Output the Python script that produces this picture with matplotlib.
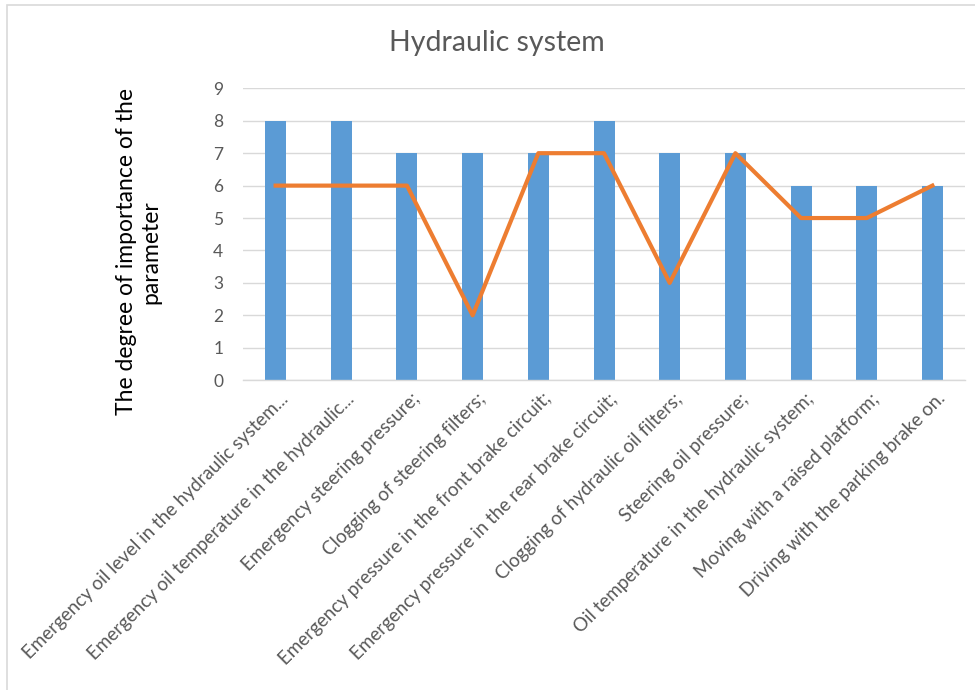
import matplotlib
matplotlib.use('Agg')
import matplotlib.pyplot as plt
import matplotlib.transforms as mtransforms
from matplotlib.patches import Rectangle

# Parámetros del sistema hidráulico
categories = [
    'Emergency oil level in the hydraulic system...',
    'Emergency oil temperature in the hydraulic...',
    'Emergency steering pressure;',
    'Clogging of steering filters;',
    'Emergency pressure in the front brake circuit;',
    'Emergency pressure in the rear brake circuit;',
    'Clogging of hydraulic oil filters;',
    'Steering oil pressure;',
    'Oil temperature in the hydraulic system;',
    'Moving with a raised platform;',
    'Driving with the parking brake on.',
]
bar_values = [8, 8, 7, 7, 7, 8, 7, 7, 6, 6, 6]
line_values = [6, 6, 6, 2, 7, 7, 3, 7, 5, 5, 6]
y_ticks = list(range(0, 10))

BLUE = '#5B9BD5'
ORANGE = '#ED7D31'
GRID = '#D9D9D9'
TEXT = '#595959'

plt.rcParams['font.family'] = ['Lato', 'DejaVu Sans']

fig = plt.figure(figsize=(9.75, 6.9), dpi=100)
ax = fig.add_axes([0.249, 0.449, 0.741, 0.423])

x = list(range(len(categories)))
ax.bar(x, bar_values, width=0.32, color=BLUE, zorder=2)
ax.plot(x, line_values, color=ORANGE, lw=3.0, solid_joinstyle='round', zorder=3)

ax.set_xlim(-0.5, len(categories) - 0.5)
ax.set_ylim(0, 9)
ax.set_yticks(y_ticks)
ax.yaxis.grid(True, color=GRID, lw=1.0, zorder=0)
ax.set_axisbelow(True)
for side in ['top', 'right', 'left']:
    ax.spines[side].set_visible(False)
ax.spines['bottom'].set_color(GRID)
ax.spines['bottom'].set_linewidth(1.0)
ax.tick_params(axis='y', length=0, pad=14, labelsize=12.5, labelcolor=TEXT)
ax.tick_params(axis='x', length=0)

# Etiquetas inclinadas a 45 grados
ax.set_xticks(x)
ax.set_xticklabels(categories, rotation=45, ha='right', va='center',
                   rotation_mode='anchor', fontsize=13.5, color=TEXT)
offset = mtransforms.ScaledTranslation(10 / 100, -11 / 100, fig.dpi_scale_trans)
for lbl in ax.get_xticklabels():
    lbl.set_transform(lbl.get_transform() + offset)

fig.text(0.51, 0.938, 'Hydraulic system', ha='center', va='center',
         fontsize=20.5, color=TEXT)
fig.text(0.142, 0.635, 'The degree of importance of the\nparameter',
         ha='center', va='center', rotation=90, fontsize=16.5,
         color='black', linespacing=1.2)

# Marco del gráfico
fig.patches.append(Rectangle((7 / 975, -0.1), 1.2, 1.1 - 5 / 690, transform=fig.transFigure,
                             fill=False, edgecolor=GRID, lw=1.2))

fig.savefig('out.png', dpi=100)
